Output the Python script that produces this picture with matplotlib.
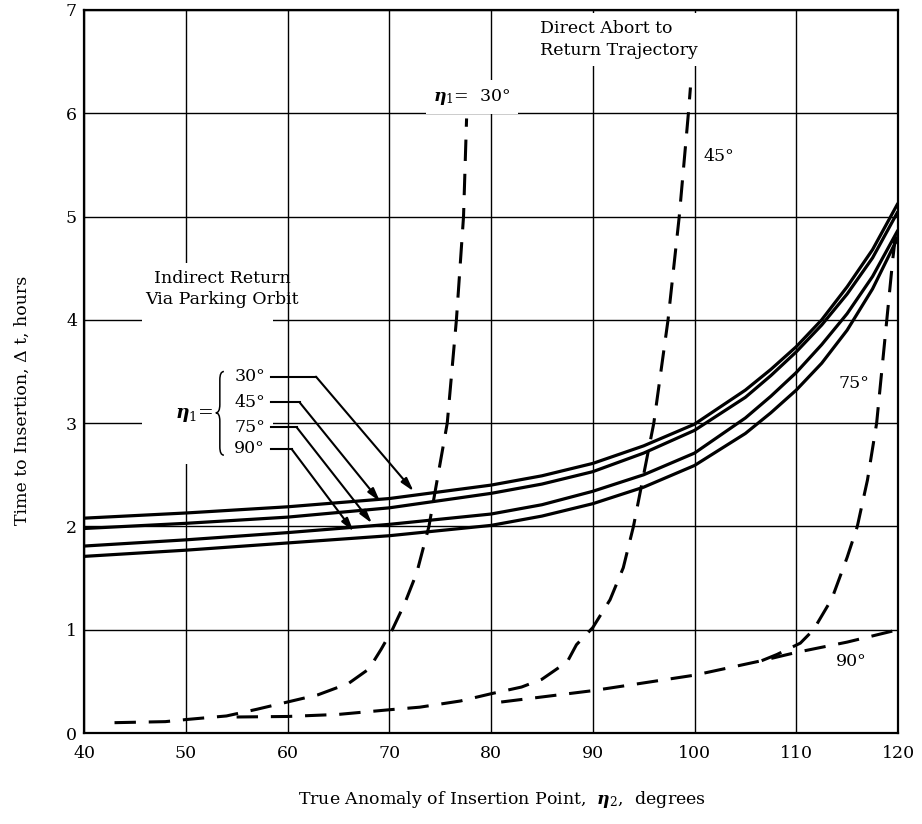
import matplotlib
matplotlib.use('Agg')
import matplotlib.pyplot as plt
from matplotlib.patches import PathPatch, Rectangle
from matplotlib.path import Path

plt.rcParams['font.family'] = ['DejaVu Serif']
plt.rcParams['mathtext.fontset'] = 'custom'
plt.rcParams['mathtext.rm'] = 'DejaVu Serif'
plt.rcParams['mathtext.it'] = 'DejaVu Serif:italic'
plt.rcParams['mathtext.bf'] = 'DejaVu Serif:italic:bold'

# indirect return via parking orbit (solid), eta1 = 30, 45, 75, 90 deg
ind_x = [40, 50, 60, 70, 80, 85, 90, 95, 100, 105, 107.5, 110, 112.5, 115, 117.5, 120]
ind_30 = [2.08, 2.13, 2.19, 2.27, 2.40, 2.49, 2.61, 2.78, 2.99, 3.32, 3.52, 3.74, 4.00, 4.32, 4.68, 5.13]
ind_45 = [1.98, 2.03, 2.09, 2.18, 2.32, 2.41, 2.53, 2.71, 2.93, 3.25, 3.46, 3.69, 3.95, 4.25, 4.60, 5.05]
ind_75 = [1.81, 1.87, 1.94, 2.02, 2.12, 2.21, 2.34, 2.50, 2.71, 3.05, 3.26, 3.49, 3.76, 4.06, 4.42, 4.87]
ind_90 = [1.71, 1.77, 1.84, 1.91, 2.01, 2.10, 2.22, 2.38, 2.59, 2.90, 3.10, 3.32, 3.58, 3.90, 4.30, 4.80]

# direct abort to return trajectory (dashed)
dir30_x = [43, 48, 50, 54, 57, 60, 63, 66, 68, 69.2, 70.3, 71.5, 72.7, 73.9, 74.8, 75.7, 76.6, 77.3, 77.6]
dir30_y = [0.10, 0.11, 0.13, 0.165, 0.23, 0.30, 0.37, 0.48, 0.62, 0.81, 1.0, 1.25, 1.55, 2.0, 2.5, 3.0, 4.0, 5.0, 5.95]
dir45_x = [55, 60, 65, 70, 73, 77, 80, 83, 85, 87.5, 88.4, 90, 91.7, 93, 94, 96, 97.4, 98.5, 99.4, 99.6]
dir45_y = [0.155, 0.16, 0.18, 0.225, 0.25, 0.31, 0.38, 0.445, 0.52, 0.69, 0.855, 1.02, 1.29, 1.6, 2.0, 3.0, 4.0, 5.0, 6.0, 6.25]
dir75_x = [106.6, 108.1, 110.4, 111.7, 113.5, 115, 116, 117, 117.9, 118.5, 118.9, 119.5, 119.8]
dir75_y = [0.70, 0.76, 0.87, 1.0, 1.3, 1.7, 2.0, 2.45, 3.0, 3.6, 4.0, 4.6, 4.85]
dir90_x = [81, 90, 100, 106.6, 110, 115, 120]
dir90_y = [0.30, 0.41, 0.56, 0.70, 0.78, 0.88, 1.0]

fig = plt.figure(figsize=(9.22, 8.24), dpi=100)
ax = fig.add_axes([84/922, 1 - 733/824, (898 - 84)/922, (733 - 10)/824])

ax.set_xlim(40, 120)
ax.set_ylim(0, 7)
ax.set_xticks(range(40, 121, 10))
ax.set_yticks(range(0, 8))
ax.grid(True, color='black', lw=1.0)
ax.set_axisbelow(True)
ax.tick_params(length=0, labelsize=12.5, pad=5)
ax.tick_params(axis='x', pad=9)
for s in ax.spines.values():
    s.set_linewidth(1.6)

for yy in [ind_30, ind_45, ind_75, ind_90]:
    ax.plot(ind_x, yy, color='black', lw=2.3, solid_capstyle='butt', solid_joinstyle='round', zorder=4)

for xx, yy in [(dir30_x, dir30_y), (dir45_x, dir45_y), (dir75_x, dir75_y), (dir90_x, dir90_y)]:
    ax.plot(xx, yy, color='black', lw=2.2, dashes=(7, 4.2), zorder=4)

# arrow head at end of 75 deg dashed curve
ax.annotate('', xy=(dir75_x[-1], dir75_y[-1]), xytext=(dir75_x[-2], dir75_y[-2]),
            arrowprops=dict(arrowstyle='-|>,head_length=0.8,head_width=0.25', color='black',
                            lw=0.1, shrinkA=0, shrinkB=0), zorder=5)

white = dict(facecolor='white', edgecolor='none', pad=5)
fs = 12.5

ax.text(84.8, 6.90, 'Direct Abort to\nReturn Trajectory', ha='left', va='top',
        fontsize=fs, linespacing=1.35, bbox=white, zorder=3)
ax.text(74.3, 6.16, r'$\mathbf{\eta}_{1}$=  30°', ha='left', va='center', fontsize=fs,
        bbox=white, zorder=3)
ax.text(100.9, 5.58, '45°', ha='left', va='center', fontsize=fs, bbox=white, zorder=3)
ax.text(115.7, 3.38, '75°', ha='center', va='center', fontsize=fs, bbox=white, zorder=3)
ax.text(115.4, 0.69, '90°', ha='center', va='center', fontsize=fs, zorder=3)

# blank area behind the indirect return key
ax.add_patch(Rectangle((45.7, 2.6), 12.9, 1.95, facecolor='white', edgecolor='none', zorder=1))
ax.text(53.6, 4.30, 'Indirect Return\nVia Parking Orbit', ha='center', va='center',
        fontsize=fs, linespacing=1.3, zorder=3)
ax.text(52.75, 3.08, r'$\mathbf{\eta}_{1}$=', ha='right', va='center', fontsize=fs + 1, zorder=3)

# brace
bx_end, bx_mid, bx_tip = 53.75, 53.35, 52.95
b_top, b_mid, b_bot = 3.50, 3.10, 2.69
verts = [(bx_end, b_top), (bx_mid, b_top), (bx_mid, b_top - 0.08),
         (bx_mid, b_mid + 0.08), (bx_mid, b_mid), (bx_tip, b_mid),
         (bx_mid, b_mid), (bx_mid, b_mid - 0.08),
         (bx_mid, b_bot + 0.08), (bx_mid, b_bot), (bx_end, b_bot)]
codes = [Path.MOVETO, Path.CURVE3, Path.CURVE3, Path.LINETO, Path.CURVE3, Path.CURVE3,
         Path.CURVE3, Path.CURVE3, Path.LINETO, Path.CURVE3, Path.CURVE3]
ax.add_patch(PathPatch(Path(verts, codes), facecolor='none', edgecolor='black', lw=1.1, zorder=3))

# leaders from eta1 labels to solid curves
for lab, ly, cx, tip in [('30°', 3.45, 62.8, (72.4, 2.34)),
                         ('45°', 3.20, 61.2, (69.1, 2.24)),
                         ('75°', 2.96, 60.9, (68.3, 2.03)),
                         ('90°', 2.75, 60.4, (66.5, 1.95))]:
    ax.text(57.8, ly, lab, ha='right', va='center', fontsize=fs, zorder=3)
    ax.plot([58.4, cx], [ly, ly], color='black', lw=1.5, zorder=3)
    ax.annotate('', xy=tip, xytext=(cx, ly),
                arrowprops=dict(arrowstyle='-|>,head_length=0.8,head_width=0.22', color='black',
                                lw=1.5, shrinkA=0, shrinkB=0), zorder=3)

fig.text(22/922, 1 - 400/824, 'Time to Insertion, Δ t, hours', rotation=90,
         ha='center', va='center', fontsize=12.5)
fig.text(502/922, 1 - 800/824, r'True Anomaly of Insertion Point,  $\mathbf{\eta}_{2}$,  degrees',
         ha='center', va='center', fontsize=12.5)

fig.savefig('out.png', dpi=100)
